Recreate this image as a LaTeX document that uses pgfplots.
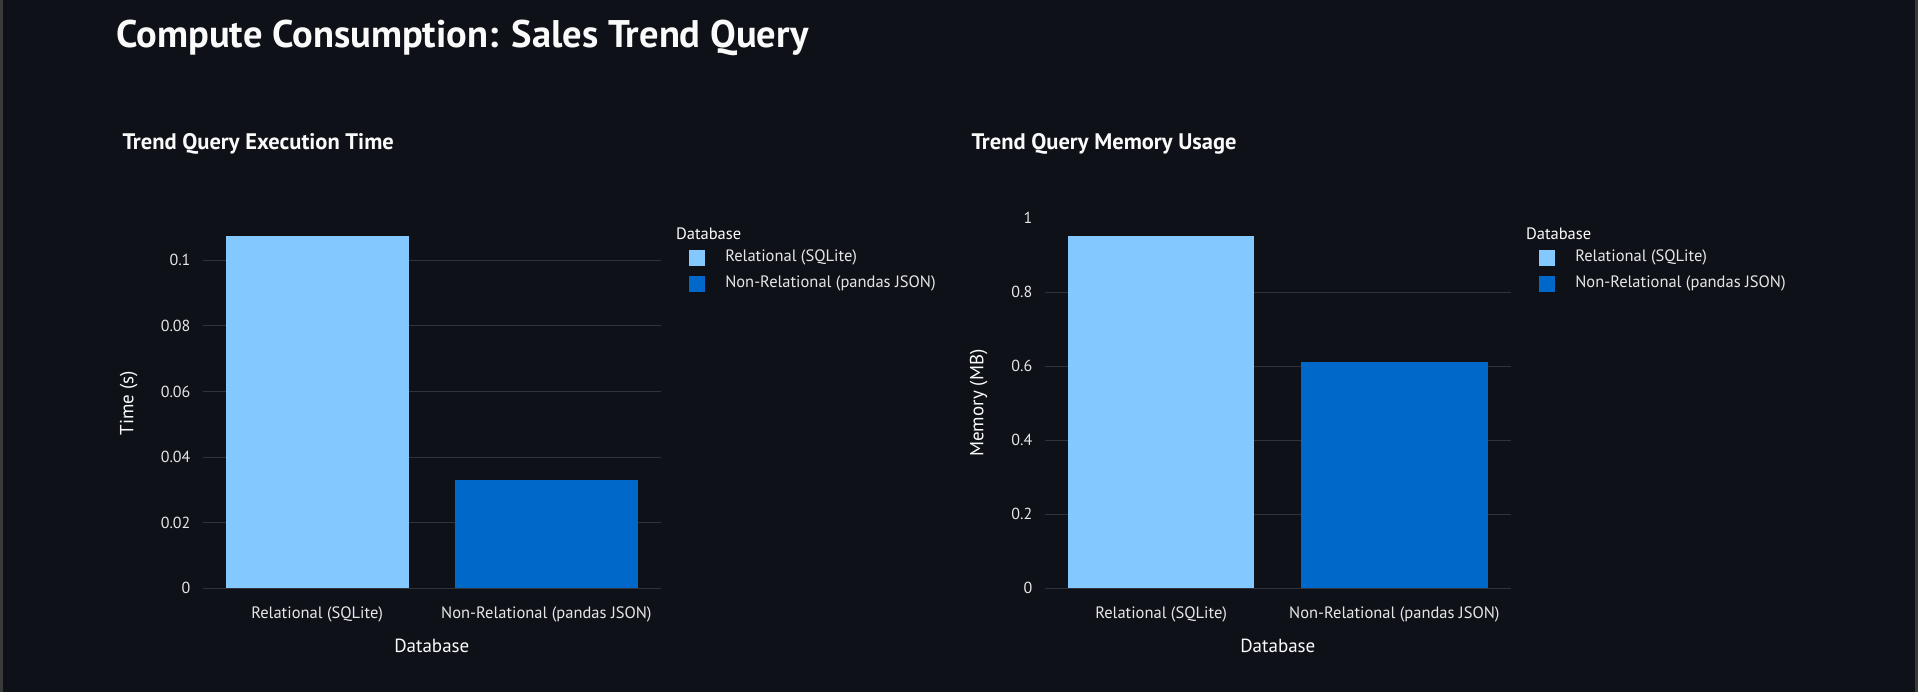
\documentclass[border=0pt]{standalone}
\usepackage{fontspec}
\setmainfont{PT Sans}
\usepackage{pgfplots}
\pgfplotsset{compat=1.18}
\definecolor{bg}{HTML}{0E1117}
\definecolor{edge}{HTML}{3A3A3A}
\definecolor{ink}{HTML}{FAFAFA}
\definecolor{tickc}{HTML}{E6E6E6}
\definecolor{gridc}{HTML}{30333B}
\definecolor{lightb}{HTML}{83C9FF}
\definecolor{darkb}{HTML}{0068C9}

\pgfplotsset{
  panel/.style={
    scale only axis, height=370.3pt, anchor=south west,
    xmin=-0.5, xmax=1.5, ymin=0,
    xtick={0,1},
    xticklabels={Relational (SQLite), Non-Relational (pandas JSON)},
    axis line style={draw=none}, major tick length=0pt,
    ymajorgrids, grid style={gridc, line width=1pt},
    tick label style={text=tickc},
    yticklabel style={inner sep=0pt, xshift=-12pt, font=\fontsize{16}{19}\selectfont},
    xticklabel style={inner sep=0pt, anchor=base, yshift=-30pt, font=\fontsize{16.5}{19}\selectfont},
    legend cell align=left,
    legend image code/.code={\fill[##1] (0pt,-8pt) rectangle (16pt,8pt);},
    legend style={anchor=north west, draw=none, fill=none,
      inner sep=0pt, outer sep=0pt, row sep=10pt,
      font=\fontsize{16.5}{19}\selectfont, text=tickc,
      nodes={inner sep=0pt, text height=11.5pt, text depth=3.5pt},
      /tikz/every odd column/.style={column sep=20pt}},
  },
  bar/.style={ybar, draw=none, bar width=0.8, bar shift=0pt},
}

\begin{document}
\begin{tikzpicture}[x=1pt, y=1pt]
\fill[bg] (0,0) rectangle (1918,692);
\useasboundingbox (0,0) rectangle (1918,692);
\fill[edge] (0,0) rectangle (3,692);
\fill[edge] (1915,0) rectangle (1918,692);

\node[anchor=west, text=ink, font=\fontsize{38.5}{42}\selectfont\bfseries]
  at (113,654) {Compute Consumption: Sales Trend Query};

% left panel: execution time
\node[anchor=west, text=ink, font=\fontsize{22.5}{26}\selectfont\bfseries]
  at (119,548) {Trend Query Execution Time};
\begin{axis}[panel, at={(202.6pt,103.7pt)}, width=458.4pt,
  ymax=0.1129,
  ytick={0,0.02,0.04,0.06,0.08,0.1},
  yticklabels={0,0.02,0.04,0.06,0.08,0.1},
  legend style={at={(1.0617,0.9136)}}]
\addplot[bar, fill=lightb] coordinates {(0,0.1074)};
\addlegendentry{Relational (SQLite)}
\addplot[bar, fill=darkb] coordinates {(1,0.0329)};
\addlegendentry{Non-Relational (pandas JSON)}
\end{axis}
\node[rotate=90, text=ink, font=\fontsize{19}{22}\selectfont] at (128.7,289) {Time (s)};
\node[text=ink, font=\fontsize{19}{22}\selectfont] at (431.8,46) {Database};
\node[anchor=west, text=ink, font=\fontsize{16.5}{19}\selectfont] at (672.5,458) {Database};

% right panel: memory usage
\node[anchor=west, text=ink, font=\fontsize{22.5}{26}\selectfont\bfseries]
  at (968,548) {Trend Query Memory Usage};
\begin{axis}[panel, at={(1044.5pt,103.7pt)}, width=466.5pt,
  ymax=1.0,
  ytick={0,0.2,0.4,0.6,0.8},
  yticklabels={0,0.2,0.4,0.6,0.8},
  extra y ticks={1}, extra y tick labels={1},
  extra y tick style={grid=none},
  legend style={at={(1.0607,0.9136)}}]
\addplot[bar, fill=lightb] coordinates {(0,0.952)};
\addlegendentry{Relational (SQLite)}
\addplot[bar, fill=darkb] coordinates {(1,0.612)};
\addlegendentry{Non-Relational (pandas JSON)}
\end{axis}
\node[rotate=90, text=ink, font=\fontsize{19}{22}\selectfont] at (978.7,289) {Memory (MB)};
\node[text=ink, font=\fontsize{19}{22}\selectfont] at (1277.8,46) {Database};
\node[anchor=west, text=ink, font=\fontsize{16.5}{19}\selectfont] at (1522.5,458) {Database};
\end{tikzpicture}
\end{document}
